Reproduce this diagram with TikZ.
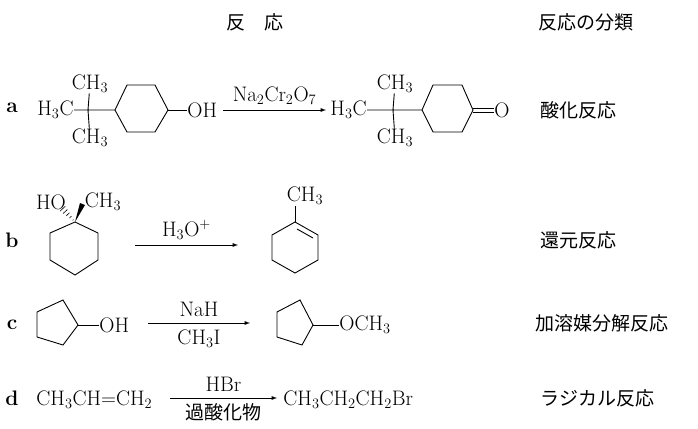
\documentclass[tikz,border=0pt]{standalone}
\usepackage{fontspec}
\usetikzlibrary{calc}
\newfontfamily\jp{Noto Sans CJK JP}
\begin{document}
\begin{tikzpicture}[x=1pt,y=-1pt,line width=0.9pt,
 t/.style={inner sep=0pt,font=\fontsize{21}{24}\selectfont},
 j/.style={inner sep=0pt,font=\fontsize{19}{22}\selectfont\jp},
 lab/.style={inner sep=0pt,font=\fontsize{21}{24}\selectfont\bfseries},
 rx/.style={-latex,line width=0.9pt}]
\useasboundingbox (0,0) rectangle (698,428);
% headers
\node[j] (h1) at (255,22) {反　応};
\node[j] (h2) at (586,22) {反応の分類};
% row a
\node[lab] (la) at (12,108) {a};
\node[t,anchor=east] (a1) at (74,110) {H$_3$C};
\coordinate (aq) at (88,110);
\node[t] (a2) at (90,84) {CH$_3$};
\node[t] (a3) at (90,138) {CH$_3$};
\draw (a1) -- (aq) -- (115,110) (a2) -- (aq) -- (a3);
\draw (115,110) -- (127,85) -- (155,85) -- (168,110) -- (155,132) -- (127,132) -- cycle;
\node[t,anchor=west] (a4) at (187,110) {OH};
\draw (168,110) -- (a4);
\coordinate (s1) at (223,110); \coordinate (e1) at (326,110);
\draw[rx] (s1) -- (e1) node[midway,above=5pt,t] {Na$_2$Cr$_2$O$_7$};
\node[t,anchor=west] (a5) at (330,110) {H$_3$C};
\coordinate (bq) at (393,110);
\node[t] (a6) at (395,84) {CH$_3$};
\node[t] (a7) at (395,138) {CH$_3$};
\draw (a5) -- (bq) -- (422,110) (a6) -- (bq) -- (a7);
\draw (422,110) -- (433,85) -- (462,85) -- (473,110) -- (462,132) -- (433,132) -- cycle;
\node[t,anchor=west] (a8) at (494,110) {O};
\draw (473,108) -- (a8.west|-0,108) (473,112) -- (a8.west|-0,112);
\node[j,anchor=west] (ca) at (540,110) {酸化反応};
% row b
\node[lab] (lb) at (12,240) {b};
\coordinate (bc) at (75,222);
\node[t] (b1) at (51,202) {HO};
\node[t] (b2) at (103,202) {CH$_3$};
\draw (bc) -- (98,233) -- (98,260) -- (75,275) -- (50,260) -- (50,233) -- cycle;
\foreach \i in {0.15,0.35,0.55,0.75,0.95} \draw[line width=0.6pt] ($(bc)!\i!(62,208)+(-2.8*\i,2.6*\i)$) -- ($(bc)!\i!(62,208)+(2.8*\i,-2.6*\i)$);
\fill (bc) -- (85,205) -- (80,203) -- cycle;
\coordinate (s2) at (135,245); \coordinate (e2) at (238,245);
\draw[rx] (s2) -- (e2) node[midway,above=5pt,t] {H$_3$O$^+$};
\coordinate (pc) at (295,222);
\node[t] (b3) at (305,196) {CH$_3$};
\draw (pc) -- (295,206);
\draw (pc) -- (318,235) -- (318,260) -- (295,273) -- (272,260) -- (272,235) -- cycle;
\draw (297,229) -- (313,238);
\node[j,anchor=west] (cb) at (540,240) {還元反応};
% row c
\node[lab] (lc) at (12,325) {c};
\draw (78,325) -- (63,300) -- (37,312) -- (37,337) -- (63,345) -- cycle;
\node[t,anchor=west] (c1) at (99,325) {OH};
\draw (78,325) -- (c1);
\coordinate (s3) at (148,323); \coordinate (e3) at (250,323);
\draw[rx] (s3) -- (e3) node[midway,above=6pt,t] {NaH} node[midway,below=6pt,t] {CH$_3$I};
\draw (313,325) -- (300,300) -- (277,312) -- (277,337) -- (302,345) -- cycle;
\node[t,anchor=west] (c2) at (339,325) {OCH$_3$};
\draw (313,325) -- (c2);
\node[j,anchor=west] (cc) at (535,323) {加溶媒分解反応};
% row d
\node[lab] (ld) at (12,398) {d};
\node[t,anchor=west] (d1) at (36,400) {CH$_3$CH$=$CH$_2$};
\coordinate (s4) at (170,398); \coordinate (e4) at (277,398);
\draw[rx] (s4) -- (e4) node[midway,above=6pt,t] {HBr} node[midway,below=5pt,j] {過酸化物};
\node[t,anchor=west] (d2) at (283,400) {CH$_3$CH$_2$CH$_2$Br};
\node[j,anchor=west] (cd) at (540,398) {ラジカル反応};
\end{tikzpicture}
\end{document}
